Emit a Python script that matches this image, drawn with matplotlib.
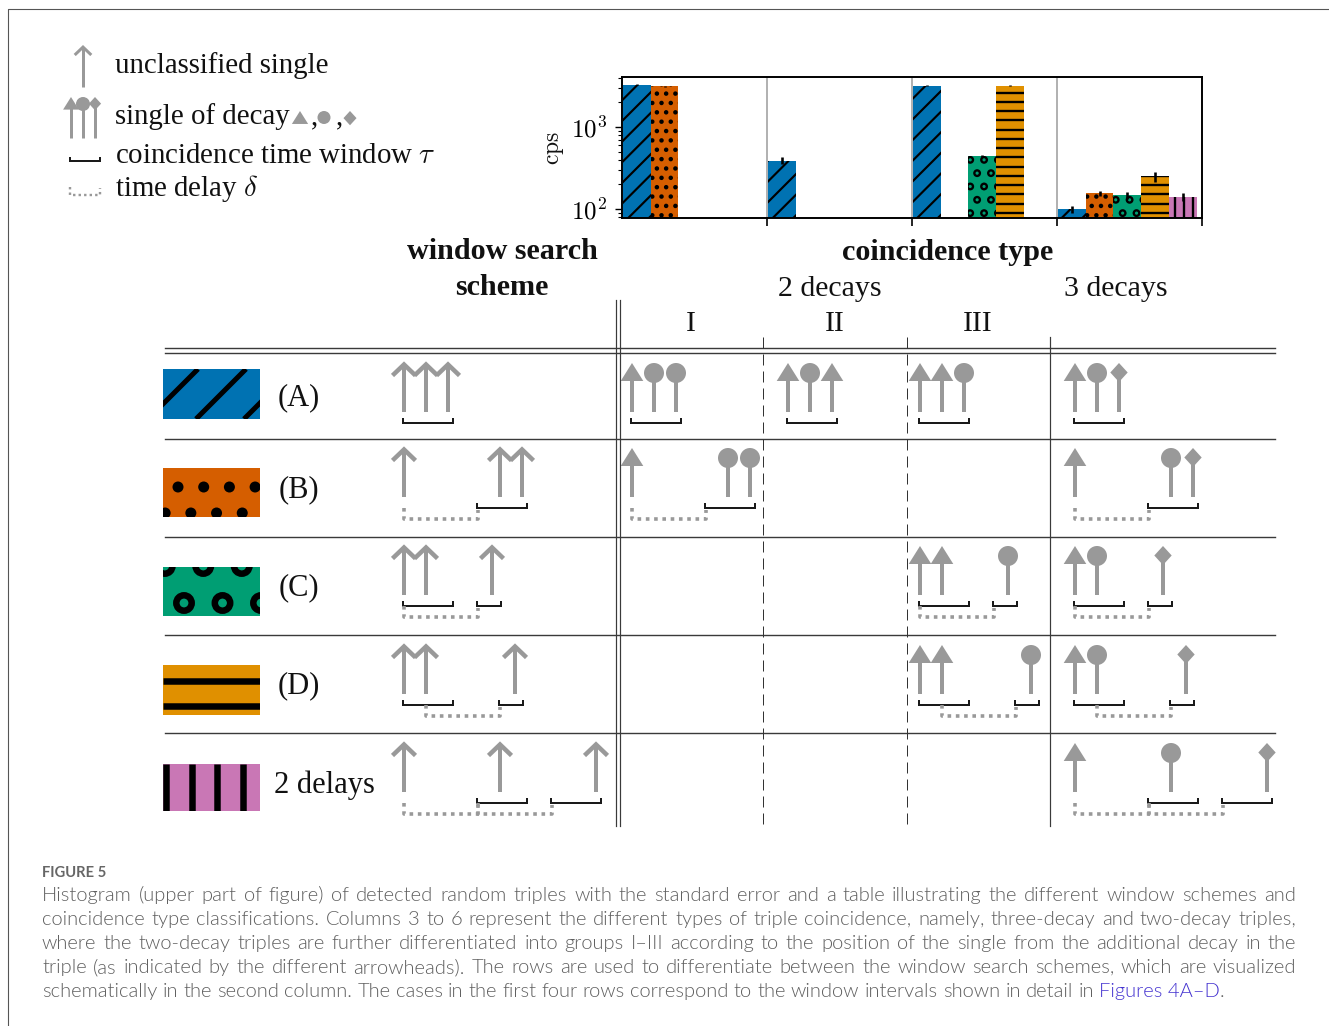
#!/usr/bin/env python3
import numpy as np
import matplotlib
matplotlib.use("Agg")
import matplotlib.pyplot as plt
from matplotlib.patches import Rectangle, Circle, Polygon

plt.rcParams["font.family"] = ["Liberation Serif", "DejaVu Serif"]
plt.rcParams["mathtext.fontset"] = "cm"

# histogram values (cps), one entry per coincidence group
groups = ["I", "II", "III", "3 decays"]
blue_vals = [3300, 390, 3200, 100]
orange_vals = [3150, np.nan, np.nan, 155]
green_vals = [np.nan, np.nan, 440, 147]
yellow_vals = [np.nan, np.nan, 3200, 250]
pink_vals = [np.nan, np.nan, np.nan, 140]
blue_err = [60, 35, 40, 10]
orange_err = [40, 0, 0, 12]
green_err = [0, 0, 12, 15]
yellow_err = [0, 0, 40, 35]
pink_err = [0, 0, 0, 16]

series_vals = [blue_vals, orange_vals, green_vals, yellow_vals, pink_vals]
series_err = [blue_err, orange_err, green_err, yellow_err, pink_err]
colors = ["#0072B2", "#D55E00", "#009E73", "#E09000", "#C977B5"]
kinds = ["/", ".", "o", "-", "|"]
GROUP_W = 5.216
AX_BOTTOM = 218

# window schemes: arrow offsets, bracket spans, delay spans (px from first arrow)
scheme_arrows = [[0, 22, 44], [0, 96, 118], [0, 22, 88], [0, 22, 111], [0, 96, 192]]
scheme_windows = [[(0, 50)], [(74, 124)], [(0, 50), (74, 98)], [(0, 50), (96, 120)], [(74, 124), (148, 198)]]
scheme_delays = [[], [(0, 74)], [(0, 74)], [(22, 96)], [(0, 74), (74, 148)]]
row_labels = ["(A)", "(B)", "(C)", "(D)", "2 delays"]
row_label_x = [298.5, 298.5, 298.5, 298.5, 324]
row_label_y = [398, 490, 588, 686, 785]
row_tops = [363, 448, 546, 645, 743]
swatch_tops = [369, 468, 567, 665, 764]
swatch_bottoms = [419, 517, 616, 715, 811]
swatch_anchors = [(567, 0), (178, 487), (184, 603), (0, 680.5), (166, 0)]

# table cells: row, x of first arrow, head shapes
table_cells = [
    (0, 632, "tcc"), (0, 788, "tct"), (0, 920, "ttc"), (0, 1075, "tcd"),
    (1, 632, "tcc"), (1, 1075, "tcd"),
    (2, 920, "ttc"), (2, 1075, "tcd"),
    (3, 920, "ttc"), (3, 1075, "tcd"),
    (4, 1075, "tcd"),
]

caption_lines = [
    "Histogram (upper part of figure) of detected random triples with the standard error and a table illustrating the different window schemes and",
    "coincidence type classifications. Columns 3 to 6 represent the different types of triple coincidence, namely, three-decay and two-decay triples,",
    "where the two-decay triples are further differentiated into groups I\u2013III according to the position of the single from the additional decay in the",
    "triple (as indicated by the different arrowheads). The rows are used to differentiate between the window search schemes, which are visualized",
]
caption_last = "schematically in the second column. The cases in the first four rows correspond to the window intervals shown in detail in"

GRAY = "#999999"
INK = "#111111"
PX = 0.72  # points per pixel at dpi 100

fig = plt.figure(figsize=(13.29, 10.26), dpi=100, facecolor="white")

# histogram
ax_bar = fig.add_axes([622 / 1329, 1 - AX_BOTTOM / 1026, 580 / 1329, 141 / 1026])
ax_bar.set_yscale("log")
ax_bar.set_xlim(0, 4 * GROUP_W)
ax_bar.set_ylim(77.6, 4074)

bars = []
for j, (vals, errs) in enumerate(zip(series_vals, series_err)):
    for g, (v, e) in enumerate(zip(vals, errs)):
        if np.isnan(v):
            continue
        left = g * GROUP_W + j + 0.03
        b = ax_bar.bar(left, v, width=1.0, align="edge", color=colors[j], linewidth=0, zorder=2)[0]
        ax_bar.errorbar(left + 0.5, v, yerr=e, color="black", elinewidth=2.6 * PX, capsize=0, zorder=3)
        bars.append((b, j))

ax_bar.set_ylim(77.6, 4074)
for g in range(1, 4):
    ax_bar.axvline(g * GROUP_W, color=GRAY, lw=1.5 * PX, zorder=1)
ax_bar.set_xticks([g * GROUP_W for g in range(1, 5)])
ax_bar.set_xticklabels([])
ax_bar.tick_params(axis="x", length=6, width=1.2, direction="out")
ax_bar.tick_params(axis="y", which="major", length=5, width=1.0, labelsize=18, pad=6)
ax_bar.tick_params(axis="y", which="minor", length=3, width=0.8)
ax_bar.set_yticks([100, 1000])
ax_bar.set_yticklabels([r"$10^{2}$", r"$10^{3}$"])
for sp in ax_bar.spines.values():
    sp.set_linewidth(1.4)

# overlay in pixel coordinates
ax = fig.add_axes([0, 0, 1, 1], zorder=5)
ax.set_xlim(0, 1329)
ax.set_ylim(1026, 0)
ax.axis("off")
ax.set_autoscale_on(False)


def fill_pattern(kind, x0, y0, x1, y1, s, anchor):
    clip = Rectangle((x0, y0), x1 - x0, y1 - y0, fill=False, lw=0, transform=ax.transData)
    ax.add_patch(clip)
    items = []
    if kind == "/":
        sp = 48 * s
        for k in range(int((x0 + y0 - anchor[0]) // sp), int((x1 + y1 - anchor[0]) // sp) + 2):
            c = anchor[0] + k * sp
            items += ax.plot([c - y1, c - y0], [y1, y0], color="black", lw=5 * s * PX, solid_capstyle="butt")
    elif kind == "-":
        sp = 25.7 * s
        for k in range(int((y0 - anchor[1]) // sp), int((y1 - anchor[1]) // sp) + 2):
            yy = anchor[1] + k * sp
            items += ax.plot([x0, x1], [yy, yy], color="black", lw=6.5 * s * PX, solid_capstyle="butt")
    elif kind == "|":
        sp = 25.5 * s
        for k in range(int((x0 - anchor[0]) // sp), int((x1 - anchor[0]) // sp) + 2):
            xx = anchor[0] + k * sp
            items += ax.plot([xx, xx], [y0, y1], color="black", lw=6.5 * s * PX, solid_capstyle="butt")
    else:
        dx, dy = (25.7 * s, 26 * s) if kind == "." else (38.5 * s, 37 * s)
        for r in range(int((y0 - anchor[1]) // dy) - 1, int((y1 - anchor[1]) // dy) + 2):
            yy = anchor[1] + r * dy
            shift = dx / 2 if r % 2 else 0
            for q in range(int((x0 - anchor[0]) // dx) - 1, int((x1 - anchor[0]) // dx) + 2):
                xx = anchor[0] + q * dx + shift
                if kind == ".":
                    c = Circle((xx, yy), (5.5 if s == 1.0 else 6.2) * s, color="black", lw=0)
                else:
                    c = Circle((xx, yy), 7.7 * s, fill=False, edgecolor="black", lw=6.5 * s * PX)
                ax.add_patch(c)
                items.append(c)
    for it in items:
        it.set_clip_path(clip)


for b, j in bars:
    ext = b.get_window_extent()
    # the bar base sits at 0 on a log axis, so stop the pattern at the axis edge
    scale = 0.43 if kinds[j] == "/" else 0.36
    fill_pattern(kinds[j], ext.x0, 1026 - ext.y1, ext.x1, AX_BOTTOM, scale, (0, 0))


def draw_head(x, top, kind, s=1.0, lw=4.5):
    if kind == "u":
        ax.plot([x - 11.5 * s, x, x + 11.5 * s], [top + 12.5 * s, top + 1.5 * s, top + 12.5 * s], color=GRAY,
                lw=lw * PX, solid_joinstyle="miter", solid_capstyle="butt")
    elif kind == "t":
        ax.add_patch(Polygon([(x - 11.3 * s, top + 18 * s), (x, top), (x + 11.3 * s, top + 18 * s)], color=GRAY, lw=0))
    elif kind == "c":
        ax.add_patch(Circle((x, top + 10 * s), 10 * s, color=GRAY, lw=0))
    elif kind == "d":
        ax.add_patch(Polygon([(x - 8.7 * s, top + 9.5 * s), (x, top), (x + 8.7 * s, top + 9.5 * s), (x, top + 19 * s)],
                             color=GRAY, lw=0))


def draw_shaft(x, top, bottom, lw=4):
    ax.plot([x, x], [top, bottom], color=GRAY, lw=lw * PX, solid_capstyle="butt")


def draw_bracket(x0, x1, y0, y1, lw=2):
    ax.plot([x0, x0, x1, x1], [y0, y1, y1, y0], color="#1a1a1a", lw=lw * PX,
            solid_joinstyle="miter", solid_capstyle="butt")


def draw_delay(x0, x1, y0, y1, y2, lw=3.6):
    ax.plot([x0, x0, x1, x1], [y0, y2, y2, y1], color=GRAY, lw=lw * PX, ls=(0, (1.0, 1.3)), dash_capstyle="butt")


def draw_triple(row, x0, heads):
    top = row_tops[row]
    bottom = top + 49
    for off, h in zip(scheme_arrows[row], heads):
        draw_shaft(x0 + off, top + (9 if h != "u" else 1), bottom)
        draw_head(x0 + off, top, h)
    for a, c in scheme_windows[row]:
        draw_bracket(x0 + a - 1, x0 + c - 1, bottom + 5.5, bottom + 10.5)
    for a, c in scheme_delays[row]:
        draw_delay(x0 + a, x0 + c, bottom + 10.5, bottom + 12.5, bottom + 22)


# table grid
for yy in [348, 353, 439, 537, 635, 733]:
    ax.plot([165, 1275], [yy, yy], color="#3a3a3a", lw=1.4 * PX)
for xx in [616, 620]:
    ax.plot([xx, xx], [300, 826], color="#3a3a3a", lw=1.2 * PX)
ax.plot([1050, 1050], [337, 826], color="#3a3a3a", lw=1.2 * PX)
for xx in [763, 907]:
    ax.plot([xx, xx], [337, 826], color="#333333", lw=1.0 * PX, ls=(0, (11, 6)))

for row in range(5):
    y0, y1 = swatch_tops[row], swatch_bottoms[row]
    ax.add_patch(Rectangle((163, y0), 97, y1 - y0, color=colors[row], lw=0))
    fill_pattern(kinds[row], 163, y0, 260, y1, 1.0, swatch_anchors[row])
    draw_triple(row, 404, "uuu")
    ax.text(row_label_x[row], row_label_y[row], row_labels[row], fontsize=22, ha="center", va="center", color=INK)

for row, x0, heads in table_cells:
    draw_triple(row, x0, heads)

# headers
ax.text(502, 251.5, "window search", fontsize=21.7, fontweight="bold", ha="center", va="center", color=INK)
ax.text(502, 287.5, "scheme", fontsize=21.7, fontweight="bold", ha="center", va="center", color=INK)
ax.text(948, 252, "coincidence type", fontsize=21.7, fontweight="bold", ha="center", va="center", color=INK)
ax.text(830, 288.5, "2 decays", fontsize=21.5, ha="center", va="center", color=INK)
ax.text(1116, 288.5, "3 decays", fontsize=21.5, ha="center", va="center", color=INK)
for lab, xx in zip(["I", "II", "III"], [691, 835, 978]):
    ax.text(xx, 324, lab, fontsize=21.5, ha="center", va="center", color=INK)
ax.text(555, 148, r"$\mathrm{cps}$", fontsize=17, rotation=90, ha="center", va="center", color=INK)

# legend
draw_shaft(83, 47, 87, lw=3)
draw_head(83, 46, "u", s=0.72, lw=3)
for xx, h in zip([71, 83, 95], "tcd"):
    draw_shaft(xx, 104, 138, lw=3)
    draw_head(xx, 97, h, s=0.7)
draw_bracket(70, 100, 157, 161)
draw_delay(70, 100, 187, 188, 195, lw=2.4)
ax.text(115, 73, "unclassified single", fontsize=20.8, va="baseline", color=INK)
ax.text(115, 124, "single of decay", fontsize=20.8, va="baseline", color=INK)
draw_head(300, 111, "t", s=0.72)
draw_head(324, 111, "c", s=0.65)
draw_head(350, 111, "d", s=0.75)
ax.text(311, 124, ",", fontsize=20.8, va="baseline", color=INK)
ax.text(336, 124, ",", fontsize=20.8, va="baseline", color=INK)
ax.text(115, 163, r"coincidence time window $\tau$", fontsize=20.8, va="baseline", color=INK)
ax.text(115, 196, r"time delay $\delta$", fontsize=20.8, va="baseline", color=INK)

# frame of the page
ax.plot([8, 8, 1329], [1026, 9, 9], color="#555555", lw=1.1 * PX)

# caption, justified word by word
cap_style = dict(family=["Lato", "DejaVu Sans"], fontsize=14.5, fontweight=300, color="#5f5f5f", va="baseline")
renderer = fig.canvas.get_renderer()


def put_line(text, y, x_left=42, x_right=None):
    words = text.split(" ")
    items = [ax.text(0, y, w, **cap_style) for w in words]
    widths = [t.get_window_extent(renderer).width for t in items]
    gap = 5.2 if x_right is None else (x_right - x_left - sum(widths)) / (len(words) - 1)
    xx = x_left
    for t, w in zip(items, widths):
        t.set_x(xx)
        xx += w + gap
    return xx


ax.text(42, 877, "FIGURE 5", family=["Lato", "DejaVu Sans"], fontsize=10.6, fontweight="bold", color="#666666", va="baseline")
for i, line in enumerate(caption_lines):
    put_line(line, 901 + 24 * i, x_right=1296)
x_end = put_line(caption_last, 997)
link_style = dict(cap_style, color="#4433d0")
link = ax.text(x_end, 997, "Figures 4A\u2013D", **link_style)
link_w = link.get_window_extent(renderer).width
ax.text(x_end + link_w, 997, ".", **cap_style)

fig.savefig("out.png", dpi=100, facecolor="white")
